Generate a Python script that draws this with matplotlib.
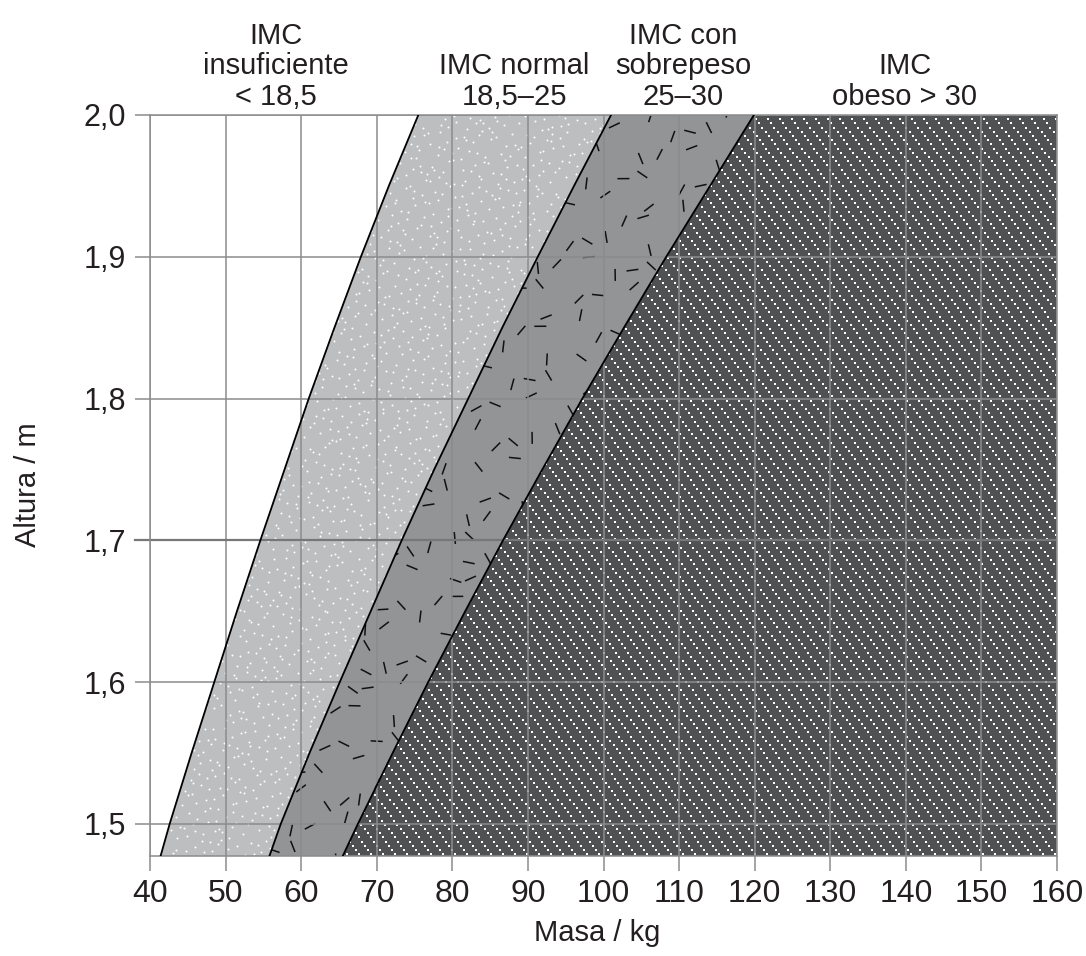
#------------------------------------------------------------------------------
#Library

import numpy as np
import matplotlib
matplotlib.use("Agg")
import matplotlib.pyplot as plt
from matplotlib.patches import Polygon
from matplotlib.collections import LineCollection

plt.rcParams['font.family'] = ['Liberation Sans', 'DejaVu Sans']

#------------------------------------------------------------------------------
#Data

heights = [1.4774, 1.5, 1.55, 1.6, 1.65, 1.7, 1.75, 1.8, 1.85, 1.9, 1.95, 2.0]
mass_18 = [41.4, 42.6, 45.5, 48.5, 51.5, 54.6, 57.8, 61.0, 64.4, 67.9, 71.6, 75.5]   # IMC 18,5
mass_25 = [55.8, 57.3, 61.1, 65.1, 69.2, 73.3, 77.6, 82.1, 86.6, 91.3, 96.1, 101.0]  # IMC 25
mass_30 = [65.5, 67.5, 72.1, 76.8, 81.7, 86.7, 91.9, 97.2, 102.7, 108.3, 114.1, 119.9]  # IMC 30

x_ticks = [40, 50, 60, 70, 80, 90, 100, 110, 120, 130, 140, 150, 160]
y_ticks = [1.5, 1.6, 1.7, 1.8, 1.9, 2.0]
y_labels = ["1,5", "1,6", "1,7", "1,8", "1,9", "2,0"]

labels = ["IMC\ninsuficiente\n< 18,5", "IMC normal\n18,5\u201325",
          "IMC con\nsobrepeso\n25\u201330", "IMC\nobeso > 30"]
label_x = [276, 514, 683, 905]   # pixel centres

#------------------------------------------------------------------------------
#Figure

W, H = 1086, 956
fig = plt.figure(figsize=(W/100, H/100), dpi=100)
L, R, T, B = 150, 1057, 115, 856
ax = fig.add_axes([L/W, 1-B/H, (R-L)/W, (B-T)/H])
ax.set_xlim(40, 160)
ax.set_ylim(heights[0], 2.0)

c_norm = "#bdbec0"
c_over = "#939496"
c_obese = "#505153"
c_grid = "#8c8c8c"
c_text = "#231f20"

h = np.array(heights)
m1 = np.array(mass_18)
m2 = np.array(mass_25)
m3 = np.array(mass_30)

def region(xa, xb):
    verts = np.vstack([np.column_stack([xa, h]),
                       np.column_stack([xb[::-1], h[::-1]])])
    return verts

p_norm = Polygon(region(m1, m2), closed=True, fc=c_norm, ec="none", zorder=1)
p_over = Polygon(region(m2, m3), closed=True, fc=c_over, ec="none", zorder=1)
p_obese = Polygon(region(m3, np.full_like(m3, 160.5)), closed=True,
                  fc=c_obese, ec="none", zorder=1)
for p in (p_norm, p_over, p_obese):
    ax.add_patch(p)

#------------------------------------------------------------------------------
#Textures (decoration only, low discrepancy sequence)

def halton(n, base):
    out = np.zeros(n)
    for i in range(n):
        f, r, k = 1.0, 0.0, i + 1
        while k > 0:
            f = f / base
            r = r + f * (k % base)
            k = k // base
        out[i] = r
    return out

aw, ah = R - L, B - T

# stipple in normal zone
n = 4000
sx = 40 + 65 * halton(n, 2)
sy = 1.47 + 0.54 * halton(n, 3)
dots = ax.scatter(sx, sy, s=2.0, c="white", linewidths=0, zorder=2)
dots.set_clip_path(p_norm)

# short dashes in overweight zone
n = 540
cx = 54 + 68 * halton(n, 5)
cy = 1.47 + 0.54 * halton(n, 7)
ang = np.pi * halton(n, 11)
seg_px = 6.0
dx = seg_px * np.cos(ang) / 7.56
dy = seg_px * np.sin(ang) / 1417.0
segs = [[(cx[i]-dx[i], cy[i]-dy[i]), (cx[i]+dx[i], cy[i]+dy[i])] for i in range(n)]
lc = LineCollection(segs, colors="#111111", linewidths=1.1, zorder=2)
ax.add_collection(lc)
lc.set_clip_path(p_over)

# dotted diagonals in obese zone (dot lattice in pixels)
px_list, py_list = [], []
for off in np.arange(-ah, aw + 20, 12.0):
    t = np.arange(0, ah + 8, 4.2)
    px_list.append(off + 0.75 * t)
    py_list.append(ah - t)
px = np.concatenate(px_list)
py = np.concatenate(py_list)
keep = (px >= 0) & (px <= aw)
lat = ax.scatter(px[keep]/aw, py[keep]/ah, s=1.2, marker="s", c="white",
                 linewidths=0, transform=ax.transAxes, zorder=2)
lat.set_clip_path(p_obese)

#------------------------------------------------------------------------------
#Grid, curves, axes

ax.set_xticks(x_ticks)
ax.set_yticks(y_ticks)
ax.set_yticklabels(y_labels)
ax.grid(True, color=c_grid, lw=1.1, zorder=3)
ax.set_axisbelow(False)
ax.axhline(1.7, color="#777777", lw=1.6, zorder=3)
ax.plot([38.0, 40.0], [1.7, 1.7], color="#777777", lw=1.6, clip_on=False, zorder=3)

for m in (m1, m2, m3):
    ax.plot(m, h, color="black", lw=1.3, zorder=4)

for s in ax.spines.values():
    s.set_color(c_grid)
    s.set_linewidth(1.1)
    s.set_zorder(3)

ax.tick_params(axis="both", direction="out", length=10.5, width=1.1,
               color=c_grid, labelcolor=c_text)
ax.tick_params(axis="x", labelsize=23, pad=6)
ax.tick_params(axis="y", labelsize=22, pad=7)

fig.text(28/W, 1-485/H, "Altura / m", rotation=90, ha="center", va="center",
         fontsize=21, color=c_text)
fig.text(597/W, 1-933/H, "Masa / kg", ha="center", va="center",
         fontsize=21, color=c_text)

for lab, px0 in zip(labels, label_x):
    fig.text(px0/W, 1-111/H, lab, ha="center", va="bottom", fontsize=21,
             color=c_text, linespacing=1.12, multialignment="center")

fig.savefig("out.png", dpi=100)
